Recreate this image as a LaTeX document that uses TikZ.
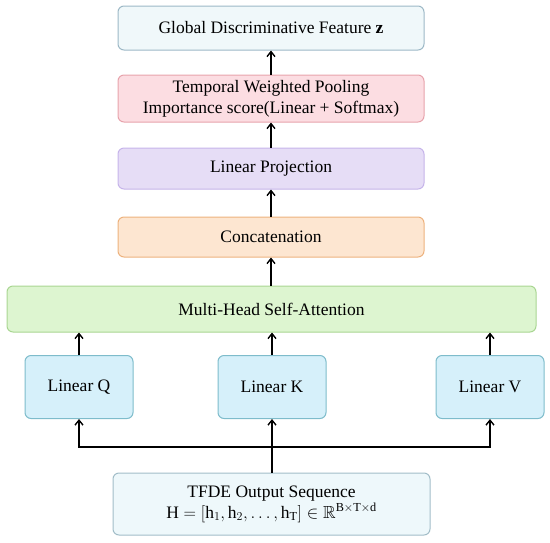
\documentclass[tikz,border=0pt]{standalone}
\usepackage{amssymb}
\usepackage{fontspec}
\setmainfont{Liberation Serif}
\usetikzlibrary{arrows.meta}
\definecolor{globF}{HTML}{F0F8FA}\definecolor{globD}{HTML}{9DB8C6}
\definecolor{tempF}{HTML}{FCDDE2}\definecolor{tempD}{HTML}{E7A3AC}
\definecolor{projF}{HTML}{E6DDF6}\definecolor{projD}{HTML}{C6B4EA}
\definecolor{concF}{HTML}{FDE6D1}\definecolor{concD}{HTML}{EDB27E}
\definecolor{mhsaF}{HTML}{DDF5D0}\definecolor{mhsaD}{HTML}{A9D692}
\definecolor{linF}{HTML}{D6F0FA}\definecolor{linD}{HTML}{7EBCCB}
\definecolor{tfdeF}{HTML}{EEF8FB}\definecolor{tfdeD}{HTML}{A2BDC8}
\begin{document}
\begin{tikzpicture}[x=1pt,y=-1pt,
  box/.style={draw, rectangle, rounded corners=6pt, line width=1pt, inner sep=0pt, align=center,
    font=\fontsize{17.5}{21}\selectfont},
  arr/.style={-{Straight Barb[length=5pt,width=8pt,line width=1.4pt]}, line width=1.6pt, black}]
\useasboundingbox (0,0) rectangle (550,542);
\node[box, fill=globF, draw=globD, minimum width=306pt, minimum height=44pt] (glob) at (271,28) {Global Discriminative Feature \textbf{z}};
\node[box, fill=tempF, draw=tempD, minimum width=306pt, minimum height=47pt] (temp) at (271,98.5) {Temporal Weighted Pooling\\Importance score(Linear + Softmax)};
\node[box, fill=projF, draw=projD, minimum width=306pt, minimum height=41pt] (proj) at (271,168.5) {Linear Projection};
\node[box, fill=concF, draw=concD, minimum width=306pt, minimum height=40pt] (conc) at (271,237) {Concatenation};
\node[box, fill=mhsaF, draw=mhsaD, minimum width=529pt, minimum height=46pt] (mhsa) at (271.5,309) {Multi-Head Self-Attention};
\node[box, fill=linF, draw=linD, minimum width=108pt, minimum height=63pt] (q) at (79,387) {Linear Q};
\node[box, fill=linF, draw=linD, minimum width=108pt, minimum height=63pt] (k) at (272,387) {Linear K};
\node[box, fill=linF, draw=linD, minimum width=108pt, minimum height=63pt] (v) at (490,387) {Linear V};
\node[box, fill=tfdeF, draw=tfdeD, minimum width=317pt, minimum height=62pt] (tfde) at (271.5,504) {TFDE Output Sequence\\$\mathrm{H}=[\mathrm{h}_1,\mathrm{h}_2,\ldots,\mathrm{h}_\mathrm{T}]\in\mathbb{R}^{\mathrm{B\times T\times d}}$};
\coordinate (j) at (272,447);
\draw[arr] (temp.north) -- (glob.south);
\draw[arr] (proj.north) -- (temp.south);
\draw[arr] (conc.north) -- (proj.south);
\draw[arr] (mhsa.north -| conc.south) -- (conc.south);
\draw[arr] (q.north) -- (mhsa.south -| q.north);
\draw[arr] (k.north) -- (mhsa.south -| k.north);
\draw[arr] (v.north) -- (mhsa.south -| v.north);
\draw[arr] (tfde.north -| k.south) -- (k.south);
\draw[arr] (j) -| (q.south);
\draw[arr] (j) -| (v.south);
\end{tikzpicture}
\end{document}
